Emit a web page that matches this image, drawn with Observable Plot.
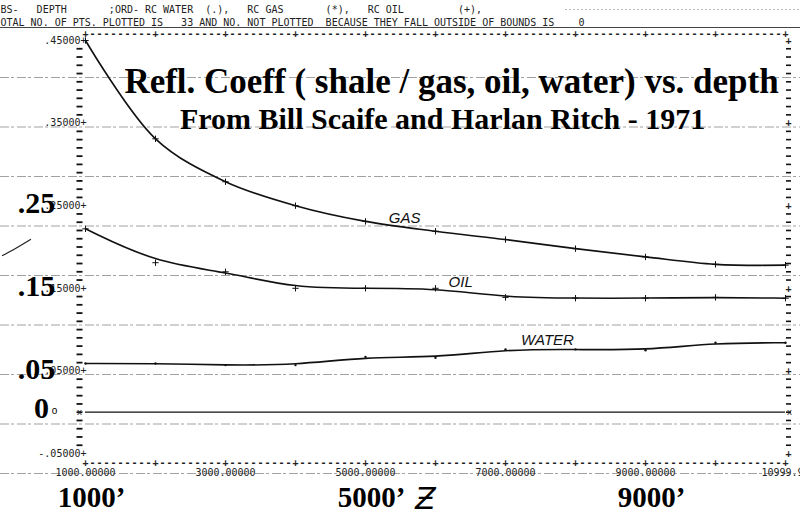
<!DOCTYPE html>
<html>
<head>
<meta charset="utf-8">
<script src="https://cdn.jsdelivr.net/npm/d3@7"></script>
<script src="https://cdn.jsdelivr.net/npm/@observablehq/plot@0.6"></script>
<style>
  body { margin: 0; background: #fff; }
  #chart svg { display: block; }
  g[aria-label="hand"] text { letter-spacing: 3px; }
</style>
</head>
<body>
<div id="chart"></div>
<script>
// ---- data ----
const depths = [1000, 2000, 3000, 4000, 5000, 6000, 7000, 8000, 9000, 10000, 11000];
const gas   = [0.450, 0.331, 0.279, 0.250, 0.231, 0.219, 0.209, 0.198, 0.188, 0.179, 0.178];
const oil   = [0.222, 0.181, 0.170, 0.150, 0.150, 0.150, 0.139, 0.138, 0.138, 0.139, 0.138];
const water = [0.059, 0.059, 0.057, 0.057, 0.067, 0.066, 0.076, 0.076, 0.075, 0.084, 0.084];

const yTickValues = [0.45, 0.35, 0.25, 0.15, 0.05, -0.05];
const yTickLabels = [".45000", ".35000", ".25000", ".15000", ".05000", "-.05000"];
const xTickValues = [1000, 3000, 5000, 7000, 9000, 11000];
const xTickLabels = ["1000.00000", "3000.00000", "5000.00000", "7000.00000", "9000.00000", "10999.99"];

const bigYLabels = [".25", ".15", ".05"];
const bigYValues = [0.25, 0.15, 0.05];
const bigXLabels = ["1000\u2019", "5000\u2019", "9000\u2019"];
const bigXValues = [1000, 5000, 9000];

const seriesNames = ["GAS", "OIL", "WATER"];
const seriesValues = [gas, oil, water];
const seriesLabelDepth = [5560, 6360, 7600];

const title = "Refl. Coeff ( shale / gas, oil, water) vs. depth";
const subtitle = "From Bill Scaife and Harlan Ritch - 1971";
const header1 = "BS-   DEPTH       ;ORD- RC WATER  (.),   RC GAS       (*),   RC OIL         (+),";
const header2 = "OTAL NO. OF PTS. PLOTTED IS   33 AND NO. NOT PLOTTED  BECAUSE THEY FALL OUTSIDE OF BOUNDS IS    0";

// ---- helpers ----
const W = 800, H = 515;
const mL = 85, mR = 15, mT = 40, mB = 62;
const px2x = d3.scaleLinear([mL, W - mR], [1000, 11000]);
const px2y = d3.scaleLinear([H - mB, mT], [-0.05, 0.45]);
const mono = "DejaVu Sans Mono";
const serif = "Liberation Serif";
const ink = "#222";
const nb = s => s.replace(/ /g, "\u00A0");
const interp = (arr, d) => {
  const i = Math.min(Math.floor((d - 1000) / 1000), arr.length - 2);
  const t = (d - depths[i]) / 1000;
  return arr[i] * (1 - t) + arr[i + 1] * t;
};

const rowsOf = k => depths.map((d, i) => ({series: seriesNames[k], depth: d, value: seriesValues[k][i]}));
const rows = seriesNames.flatMap((s, k) => rowsOf(k));

const dashVals = d3.range(-5, 46).map(i => i / 100)
  .filter(v => !yTickValues.some(t => Math.abs(t - v) < 1e-9));
const borderDepths = d3.range(1000, 11001, 100);
const borderChar = d => (d % 1000 === 0 ? "+" : "-");
const paperRows = d3.range(9).map(i => px2y(77 + i * 49.5));
const fragment = [[2, 255], [15, 248], [30, 239]].map(([a, b]) => ({x: px2x(a), y: px2y(b)}));

const M = {lineAnchor: "middle"};
const printer = {fontFamily: mono, fontSize: 10, fill: ink, lineAnchor: "middle"};

const chart = Plot.plot({
  width: W, height: H,
  marginLeft: mL, marginRight: mR, marginTop: mT, marginBottom: mB,
  x: {domain: [1000, 11000], axis: null},
  y: {domain: [-0.05, 0.45], axis: null},
  style: {background: "#fff", overflow: "visible"},
  marks: [
    // paper rulings of the scanned printout
    Plot.ruleY(paperRows, {y: d => d, x1: () => px2x(0), x2: () => px2x(W), stroke: "#8a8a8a", strokeWidth: 1, strokeDasharray: "9 2 3 3", strokeOpacity: 0.8}),
    // header of the printout
    Plot.text([nb(header1)], {...printer, text: d => d, frameAnchor: "top-left", dx: -mL, dy: -31, textAnchor: "start"}),
    Plot.text([nb(header2)], {...printer, text: d => d, frameAnchor: "top-left", dx: -mL, dy: -18, textAnchor: "start"}),
    Plot.ruleY([px2y(27)], {y: d => d, x1: () => px2x(0), x2: () => px2x(W), stroke: "#444", strokeWidth: 1}),
    Plot.ruleY([px2y(9)], {y: d => d, x1: () => px2x(565), x2: () => px2x(W), stroke: "#bbb", strokeWidth: 1, strokeDasharray: "2 2"}),
    // top & bottom borders
    Plot.text(borderDepths, {...printer, x: d => d, text: borderChar, frameAnchor: "top", dy: -7, fontWeight: "bold"}),
    Plot.text(borderDepths, {...printer, x: d => d, text: borderChar, frameAnchor: "bottom", dy: 9, fontWeight: "bold"}),
    Plot.text(xTickValues, {...printer, x: d => d, text: (d, i) => xTickLabels[i], frameAnchor: "bottom", dy: 19}),
    // left & right axes: short dashes every 0.01, "+" at labelled values
    Plot.ruleY(dashVals, {y: d => d, x1: () => px2x(76.5), x2: () => px2x(82.5), stroke: "#111", strokeWidth: 1.8}),
    Plot.text(yTickValues, {...printer, y: d => d, text: (d, i) => yTickLabels[i] + "+", frameAnchor: "left", dx: 1, textAnchor: "end"}),
    Plot.ruleY(dashVals, {y: d => d, x1: () => px2x(786), x2: () => px2x(791), stroke: "#111", strokeWidth: 1.6}),
    Plot.text(yTickValues, {...printer, y: d => d, text: () => "+", frameAnchor: "right", dx: 3, textAnchor: "middle", fontWeight: "bold"}),
    // zero line
    Plot.ruleY([0], {stroke: "#111", strokeWidth: 1.3}),
    Plot.text([0], {...printer, y: d => d, text: () => "x", frameAnchor: "left", dx: -6, textAnchor: "middle", fontSize: 9}),
    Plot.text([0], {...printer, y: d => d, text: () => "x", frameAnchor: "right", dx: 4, textAnchor: "middle", fontSize: 9}),
    // curves
    Plot.line(rowsOf(0), {x: "depth", y: "value", curve: "catmull-rom", stroke: "#111", strokeWidth: 1.6}),
    Plot.line(rowsOf(1), {x: "depth", y: "value", curve: "basis", stroke: "#111", strokeWidth: 1.6}),
    Plot.line(rowsOf(2), {x: "depth", y: "value", curve: "basis", stroke: "#111", strokeWidth: 1.6}),
    Plot.dot(rows.filter(r => r.series !== "WATER"), {x: "depth", y: "value", symbol: "plus", r: 2.2, stroke: "#111", strokeWidth: 1}),
    Plot.dot(rows.filter(r => r.series === "WATER"), {x: "depth", y: "value", r: 1.2, fill: "#111"}),
    Plot.text(seriesNames, {x: (d, i) => seriesLabelDepth[i], y: (d, i) => interp(seriesValues[i], seriesLabelDepth[i]), text: d => d, dy: -9, fontFamily: "Liberation Sans", fontStyle: "italic", fontSize: 15, fill: "#111", ariaLabel: "hand"}),
    // scan fragment at left edge
    Plot.line(fragment, {x: "x", y: "y", stroke: "#222", strokeWidth: 1.2, curve: "natural"}),
    // overlaid annotations
    Plot.text([title], {...M, text: d => d, frameAnchor: "top", dx: 16, dy: 41, fontFamily: serif, fontWeight: "bold", fontSize: 35, fill: "#000"}),
    Plot.text([subtitle], {...M, text: d => d, frameAnchor: "top", dx: 7, dy: 79, fontFamily: serif, fontWeight: "bold", fontSize: 30, fill: "#000"}),
    Plot.text(bigYValues, {...M, y: d => d, text: (d, i) => bigYLabels[i], frameAnchor: "left", textAnchor: "middle", dx: -49, dy: -2, fontFamily: serif, fontWeight: "bold", fontSize: 30, fill: "#000"}),
    Plot.text([0], {...M, y: d => d, text: () => "0", frameAnchor: "left", textAnchor: "middle", dx: -44, dy: -4, fontFamily: serif, fontWeight: "bold", fontSize: 30, fill: "#000"}),
    Plot.text([0], {...M, y: d => d, text: () => "o", frameAnchor: "left", textAnchor: "middle", dx: -31, dy: -1, fontFamily: "Liberation Sans", fontSize: 10, fill: "#000"}),
    Plot.text(bigXValues, {...M, x: d => d, text: (d, i) => bigXLabels[i], frameAnchor: "bottom", dy: 44, dx: 6, fontFamily: serif, fontWeight: "bold", fontSize: 29, fill: "#000"}),
    Plot.text(["\u01B5"], {...M, text: d => d, frameAnchor: "bottom-left", textAnchor: "middle", dx: 425 - mL, dy: 46, fontFamily: "DejaVu Sans", fontStyle: "italic", fontSize: 30, fill: "#000"})
  ]
});
document.getElementById("chart").appendChild(chart);
</script>
</body>
</html>
